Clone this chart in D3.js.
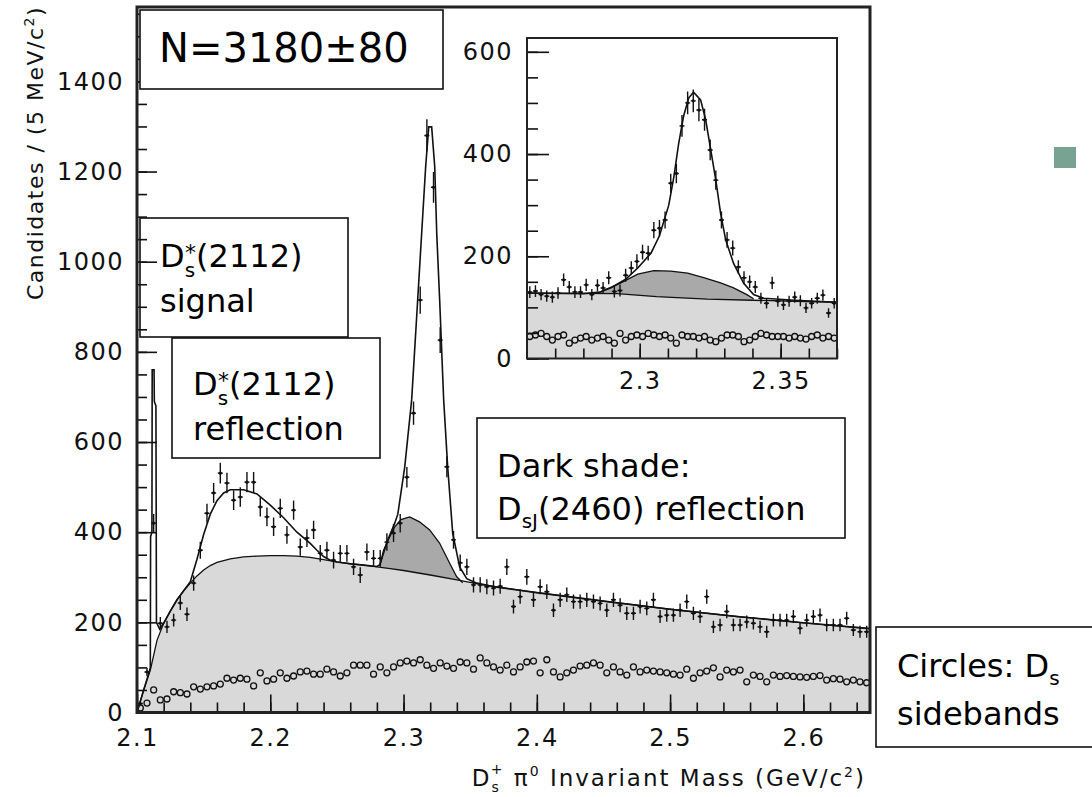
<!DOCTYPE html>
<html>
<head>
<meta charset="utf-8">
<script src="https://cdn.jsdelivr.net/npm/d3@7"></script>
<style>
body { margin: 0; background: #fff; }
svg text { font-family: "DejaVu Sans", Verdana, sans-serif; }
</style>
</head>
<body>
<svg id="chart" width="1092" height="797"></svg>
<script>
// ---- main plot: Ds+ pi0 mass, 5 MeV bins from 2.100 to 2.650 ----
var binLo = 2.100, binW = 0.005;
var counts = [20, 90, 420, 198, 190, 205, 243, 218, 287, 360,
    442, 487, 531, 509, 471, 478, 511, 511, 456, 434,
    412, 453, 394, 449, 367, 387, 405, 353, 360, 338,
    353, 353, 323, 305, 356, 342, 342, 378, 398, 420,
    522, 664, 915, 1280, 1165, 826, 545, 383, 332, 323,
    283, 283, 279, 276, 280, 323, 235, 257, 301, 250,
    279, 268, 227, 250, 261, 246, 246, 250, 246, 242,
    227, 250, 238, 220, 220, 235, 231, 250, 213, 216,
    216, 227, 246, 220, 213, 257, 190, 194, 224, 194,
    194, 201, 198, 190, 179, 205, 205, 205, 213, 187,
    205, 213, 216, 194, 194, 194, 209, 183, 179, 179];
var sidebands = [10, 21, 50, 28, 30, 46, 44, 41, 57, 52,
    57, 59, 63, 76, 72, 76, 74, 59, 88, 70,
    74, 88, 76, 81, 90, 92, 85, 85, 96, 90,
    81, 88, 105, 105, 105, 85, 101, 88, 101, 110,
    114, 110, 117, 105, 98, 110, 103, 98, 112, 110,
    96, 121, 110, 101, 94, 105, 90, 101, 112, 114,
    88, 117, 90, 79, 88, 94, 103, 105, 110, 105,
    88, 101, 90, 83, 101, 90, 94, 92, 90, 88,
    85, 83, 96, 76, 88, 92, 99, 79, 94, 90,
    94, 68, 83, 80, 68, 83, 80, 82, 80, 79,
    78, 80, 82, 72, 75, 74, 68, 72, 68, 66];

// total fit
var fitMass = [2.100, 2.105, 2.109, 2.1100, 2.1102, 2.1112, 2.1114, 2.1128, 2.1130, 2.1142,
    2.1146, 2.117, 2.120, 2.125, 2.130, 2.135, 2.140, 2.145, 2.150, 2.155,
    2.160, 2.165, 2.170, 2.180, 2.190, 2.200, 2.210, 2.220, 2.230, 2.235,
    2.240, 2.245, 2.250, 2.260, 2.270, 2.280, 2.2822, 2.2882, 2.2934, 2.2957,
    2.3009, 2.3061, 2.3106, 2.3136, 2.3166, 2.3189, 2.3211, 2.3234, 2.3249, 2.3271,
    2.3301, 2.3331, 2.3369, 2.3421, 2.3474, 2.355, 2.370, 2.400, 2.450, 2.500,
    2.550, 2.600, 2.650];
var fitVal = [0, 50, 88, 100, 390, 400, 760, 760, 690, 680,
    200, 185, 198, 225, 250, 270, 290, 340, 395, 440,
    470, 487, 494, 494, 485, 460, 432, 400, 375, 360,
    346, 338, 334, 330, 327, 324, 328, 383, 420, 440,
    545, 694, 915, 1063, 1211, 1299, 1299, 1211, 1063, 915,
    694, 545, 397, 323, 297, 287, 278, 266, 247, 229,
    213, 199, 186];

// combinatorial background (light shade)
var bkgMass = [2.100, 2.105, 2.110, 2.115, 2.120, 2.125, 2.130, 2.135, 2.140, 2.145,
    2.150, 2.155, 2.160, 2.170, 2.180, 2.190, 2.200, 2.210, 2.220, 2.230,
    2.240, 2.250, 2.260, 2.270, 2.280, 2.290, 2.300, 2.320, 2.340, 2.360,
    2.400, 2.450, 2.500, 2.550, 2.600, 2.650];
var bkgVal = [0, 50, 94, 160, 198, 225, 250, 270, 287, 303,
    316, 326, 333, 341, 345, 347, 348, 348, 347, 344,
    339, 334, 330, 327, 323, 319, 315, 305, 294, 283,
    266, 247, 229, 213, 199, 186];

// DsJ(2460) reflection on top of background (dark shade)
var reflMass = [2.2822, 2.285, 2.288, 2.293, 2.298, 2.3046, 2.312, 2.3196, 2.327, 2.3346, 2.3399, 2.3444];
var reflVal = [325, 360, 380, 410, 428, 434, 423, 405, 376, 331, 301, 288];

// ---- inset: 2 MeV bins from 2.260 to 2.370 ----
var insetLo = 2.260, insetW = 0.002;
var insetCounts = [130, 132, 125, 122, 120, 128, 154, 140, 130, 130,
    144, 125, 143, 138, 158, 131, 133, 163, 177, 190,
    208, 206, 251, 255, 271, 343, 362, 455, 500, 504,
    486, 467, 408, 349, 271, 232, 216, 179, 158, 150,
    140, 118, 108, 148, 112, 105, 112, 120, 113, 99,
    108, 118, 124, 89, 108];
var insetSide = [43, 46, 49, 43, 36, 43, 46, 30, 36, 40,
    43, 36, 40, 43, 36, 30, 49, 36, 43, 46,
    43, 49, 46, 43, 46, 40, 30, 46, 43, 43,
    40, 43, 36, 33, 40, 46, 46, 43, 33, 36,
    43, 49, 46, 43, 43, 43, 40, 43, 40, 38,
    43, 46, 40, 43, 40];
var insetFitMass = [2.260, 2.280, 2.286, 2.290, 2.295, 2.2993, 2.304, 2.307, 2.3103, 2.3121,
    2.3138, 2.3156, 2.3174, 2.3191, 2.3216, 2.3234, 2.3252, 2.327, 2.3287, 2.3305,
    2.3333, 2.3369, 2.3404, 2.344, 2.355, 2.370];
var insetFitVal = [128, 127, 130, 139, 155, 177, 206, 240, 300, 355,
    420, 475, 510, 521, 506, 467, 408, 349, 284, 232,
    186, 147, 125, 118, 114, 110];
var insetBkgMass = [2.260, 2.292, 2.306, 2.324, 2.340, 2.355, 2.370];
var insetBkgVal = [128, 127, 121, 116, 114, 112, 110];
var insetReflMass = [2.285, 2.2893, 2.2933, 2.2993, 2.305, 2.311, 2.317, 2.3227, 2.3287, 2.3333, 2.338, 2.3404];
var insetReflVal = [128, 138, 148, 165, 172, 171, 167, 158, 148, 138, 125, 117];

// axis ticks
var mainYTicks = [0, 200, 400, 600, 800, 1000, 1200, 1400];
var mainXTicks = [2.1, 2.2, 2.3, 2.4, 2.5, 2.6];
var insetYTicks = [0, 200, 400, 600];
var insetXTicks = [2.3, 2.35];

var LIGHT = "#d9d9d9", DARK = "#a9a9a9", INK = "#111";
var svg = d3.select("#chart");

function pairs(ms, vs) {
    return ms.map(function(m, i) { return [m, vs[i]]; });
}

function drawPanel(p) {
    var x = p.x, y = p.y;
    var g = svg.append("g").attr("clip-path", "url(#" + p.clip + ")");
    var line = d3.line().x(function(d) { return x(d[0]); }).y(function(d) { return y(d[1]); });
    var area = d3.area().x(function(d) { return x(d[0]); })
        .y0(y(0)).y1(function(d) { return y(d[1]); });

    // dark shade first, then the light background covers its lower part
    g.append("path").datum(pairs(p.reflMass, p.reflVal)).attr("d", area).attr("fill", DARK);
    g.append("path").datum(pairs(p.bkgMass, p.bkgVal)).attr("d", area).attr("fill", LIGHT);

    // sideband circles
    g.append("g").selectAll("circle").data(p.side).enter().append("circle")
        .attr("cx", function(d, i) { return x(p.lo + (i + 0.5) * p.w); })
        .attr("cy", function(d) { return y(d); })
        .attr("r", 3)
        .attr("fill", "none").attr("stroke", INK).attr("stroke-width", 1.3);

    g.append("path").datum(pairs(p.reflMass, p.reflVal)).attr("d", line)
        .attr("fill", "none").attr("stroke", INK).attr("stroke-width", 1.3);
    g.append("path").datum(pairs(p.bkgMass, p.bkgVal)).attr("d", line)
        .attr("fill", "none").attr("stroke", INK).attr("stroke-width", 1.3);
    g.append("path").datum(pairs(p.fitMass, p.fitVal)).attr("d", line)
        .attr("fill", "none").attr("stroke", INK).attr("stroke-width", 1.6);

    // data points with poisson error bars
    var pts = g.append("g").selectAll("g").data(p.counts).enter().append("g")
        .attr("transform", function(d, i) {
            return "translate(" + x(p.lo + (i + 0.5) * p.w) + ",0)";
        });
    pts.append("line")
        .attr("y1", function(d) { return y(d + Math.sqrt(d)); })
        .attr("y2", function(d) { return y(Math.max(0, d - Math.sqrt(d))); })
        .attr("stroke", INK).attr("stroke-width", 1.4);
    pts.append("line")
        .attr("x1", -2.5).attr("x2", 2.5)
        .attr("y1", function(d) { return y(d); })
        .attr("y2", function(d) { return y(d); })
        .attr("stroke", INK).attr("stroke-width", 1.4);
    pts.append("circle").attr("cy", function(d) { return y(d); }).attr("r", 1.6).attr("fill", INK);
}

function drawAxes(p) {
    var x = p.x, y = p.y;
    var styleTicks = function(sel) {
        sel.select(".domain").remove();
        sel.selectAll("line").attr("stroke", INK).attr("stroke-width", 1.6);
        sel.selectAll("text").attr("font-size", p.font).attr("fill", INK)
            .attr("letter-spacing", 1.5).attr("font-family", "DejaVu Sans, Verdana, sans-serif");
    };
    svg.append("g").attr("transform", "translate(" + x.range()[0] + ",0)")
        .call(d3.axisLeft(y).tickValues(p.yMinor).tickSizeInner(-p.yMinorLen).tickSizeOuter(0).tickFormat(""))
        .call(styleTicks);
    svg.append("g").attr("transform", "translate(" + x.range()[0] + ",0)")
        .call(d3.axisLeft(y).tickValues(p.yTicks).tickSizeInner(-p.yMajorLen).tickSizeOuter(0)
            .tickPadding(p.yPad).tickFormat(function(d) { return String(d); }))
        .call(styleTicks);
    svg.append("g").attr("transform", "translate(0," + y.range()[0] + ")")
        .call(d3.axisBottom(x).tickValues(p.xMinor).tickSizeInner(-p.xMinorLen).tickSizeOuter(0).tickFormat(""))
        .call(styleTicks);
    svg.append("g").attr("transform", "translate(0," + y.range()[0] + ")")
        .call(d3.axisBottom(x).tickValues(p.xTicks).tickSizeInner(-p.xMajorLen).tickSizeOuter(0)
            .tickPadding(p.xPad).tickFormat(function(d) { return String(d); }))
        .call(styleTicks);
    svg.append("rect")
        .attr("x", x.range()[0]).attr("y", y.range()[1])
        .attr("width", x.range()[1] - x.range()[0])
        .attr("height", y.range()[0] - y.range()[1])
        .attr("fill", "none").attr("stroke", "#222").attr("stroke-width", p.frame);
}

function textBox(bx, by, bw, bh) {
    svg.append("rect").attr("x", bx).attr("y", by).attr("width", bw).attr("height", bh)
        .attr("fill", "#fff").attr("stroke", INK).attr("stroke-width", 1.6);
}

// Ds*(2112): subscript s with the star stacked above it
function dsStar(tx, ty) {
    var t = svg.append("text").attr("x", tx).attr("y", ty).attr("font-size", 32).attr("fill", "#000");
    t.append("tspan").text("D");
    t.append("tspan").attr("font-size", 20).attr("dy", 10).text("s");
    t.append("tspan").attr("font-size", 22).attr("dx", -10).attr("dy", -17).text("*");
    t.append("tspan").attr("dy", 7).text("(2112)");
}

// ---- main panel ----
var xMain = d3.scaleLinear().domain([2.1, 2.65]).range([137, 870]);
var yMain = d3.scaleLinear().domain([0, 1565]).range([712.5, 7]);

var defs = svg.append("defs");
defs.append("clipPath").attr("id", "clipMain").append("rect")
    .attr("x", 137).attr("y", 7).attr("width", 733).attr("height", 705.5);
defs.append("clipPath").attr("id", "clipInset").append("rect")
    .attr("x", 527).attr("y", 38).attr("width", 310).attr("height", 320.5);

drawPanel({ x: xMain, y: yMain, clip: "clipMain", lo: binLo, w: binW,
    counts: counts, side: sidebands, fitMass: fitMass, fitVal: fitVal,
    bkgMass: bkgMass, bkgVal: bkgVal, reflMass: reflMass, reflVal: reflVal });

// annotation boxes that sit under the axis ticks
textBox(140, 218, 208, 119);
textBox(172, 338, 208, 120);

drawAxes({ x: xMain, y: yMain, font: 24,
    yTicks: mainYTicks, yMinor: d3.range(0, 1560, 50), yMajorLen: 20, yMinorLen: 10, yPad: 13,
    xTicks: mainXTicks, xMinor: d3.range(2.1, 2.651, 0.02), xMajorLen: 18, xMinorLen: 10, xPad: 16,
    frame: 3 });

// ---- inset ----
var xIn = d3.scaleLinear().domain([2.26, 2.37]).range([527, 837]);
var yIn = d3.scaleLinear().domain([0, 627]).range([358.5, 38]);
svg.append("rect").attr("x", 527).attr("y", 38).attr("width", 310).attr("height", 320.5).attr("fill", "#fff");
drawPanel({ x: xIn, y: yIn, clip: "clipInset", lo: insetLo, w: insetW,
    counts: insetCounts, side: insetSide, fitMass: insetFitMass, fitVal: insetFitVal,
    bkgMass: insetBkgMass, bkgVal: insetBkgVal, reflMass: insetReflMass, reflVal: insetReflVal });
drawAxes({ x: xIn, y: yIn, font: 24,
    yTicks: insetYTicks, yMinor: d3.range(0, 627, 50), yMajorLen: 22, yMinorLen: 11, yPad: 14,
    xTicks: insetXTicks, xMinor: d3.range(2.27, 2.371, 0.01), xMajorLen: 15, xMinorLen: 10, xPad: 13,
    frame: 2 });

// ---- axis titles ----
var yt = svg.append("text")
    .attr("transform", "translate(43,6) rotate(-90)")
    .attr("text-anchor", "end").attr("font-size", 22).attr("letter-spacing", 1.5).attr("fill", INK);
yt.append("tspan").text("Candidates / (5 MeV/c");
yt.append("tspan").attr("font-size", 14).attr("dy", -9).text("2");
yt.append("tspan").attr("dy", 9).text(")");

var xt = svg.append("text").attr("x", 866).attr("y", 786).attr("text-anchor", "end")
    .attr("font-size", 23).attr("letter-spacing", 2).attr("fill", INK);
xt.append("tspan").text("D");
xt.append("tspan").attr("font-size", 14).attr("dy", 6).text("s");
xt.append("tspan").attr("font-size", 14).attr("dx", -10).attr("dy", -18).text("+");
xt.append("tspan").attr("dy", 12).text(" \u03c0");
xt.append("tspan").attr("font-size", 14).attr("dy", -10).text("0");
xt.append("tspan").attr("dy", 10).text(" Invariant Mass (GeV/c");
xt.append("tspan").attr("font-size", 14).attr("dy", -9).text("2");
xt.append("tspan").attr("dy", 9).text(")");

// ---- annotation text ----
dsStar(160, 267);
svg.append("text").attr("x", 160).attr("y", 312).attr("font-size", 32).attr("fill", "#000").text("signal");

dsStar(193, 395);
svg.append("text").attr("x", 193).attr("y", 440).attr("font-size", 32).attr("fill", "#000").text("reflection");

textBox(477, 418, 368, 120);
svg.append("text").attr("x", 497).attr("y", 477).attr("font-size", 32).attr("fill", "#000").text("Dark shade:");
var t3 = svg.append("text").attr("x", 497).attr("y", 520).attr("font-size", 32).attr("fill", "#000");
t3.append("tspan").text("D");
t3.append("tspan").attr("font-size", 20).attr("dy", 8).text("sJ");
t3.append("tspan").attr("dy", -8).text("(2460) reflection");

textBox(876, 627, 240, 120);
var t4 = svg.append("text").attr("x", 897).attr("y", 677).attr("font-size", 32).attr("fill", "#000");
t4.append("tspan").text("Circles: D");
t4.append("tspan").attr("font-size", 20).attr("dy", 8).text("s");
svg.append("text").attr("x", 897).attr("y", 725).attr("font-size", 32).attr("fill", "#000").text("sidebands");

textBox(140, 10, 303, 79);
svg.append("text").attr("x", 159).attr("y", 62).attr("font-size", 40).attr("fill", "#000").text("N=3180\u00b180");

// slide bullet
svg.append("rect").attr("x", 1054).attr("y", 147).attr("width", 22).attr("height", 21).attr("fill", "#78a292");
</script>
</body>
</html>
